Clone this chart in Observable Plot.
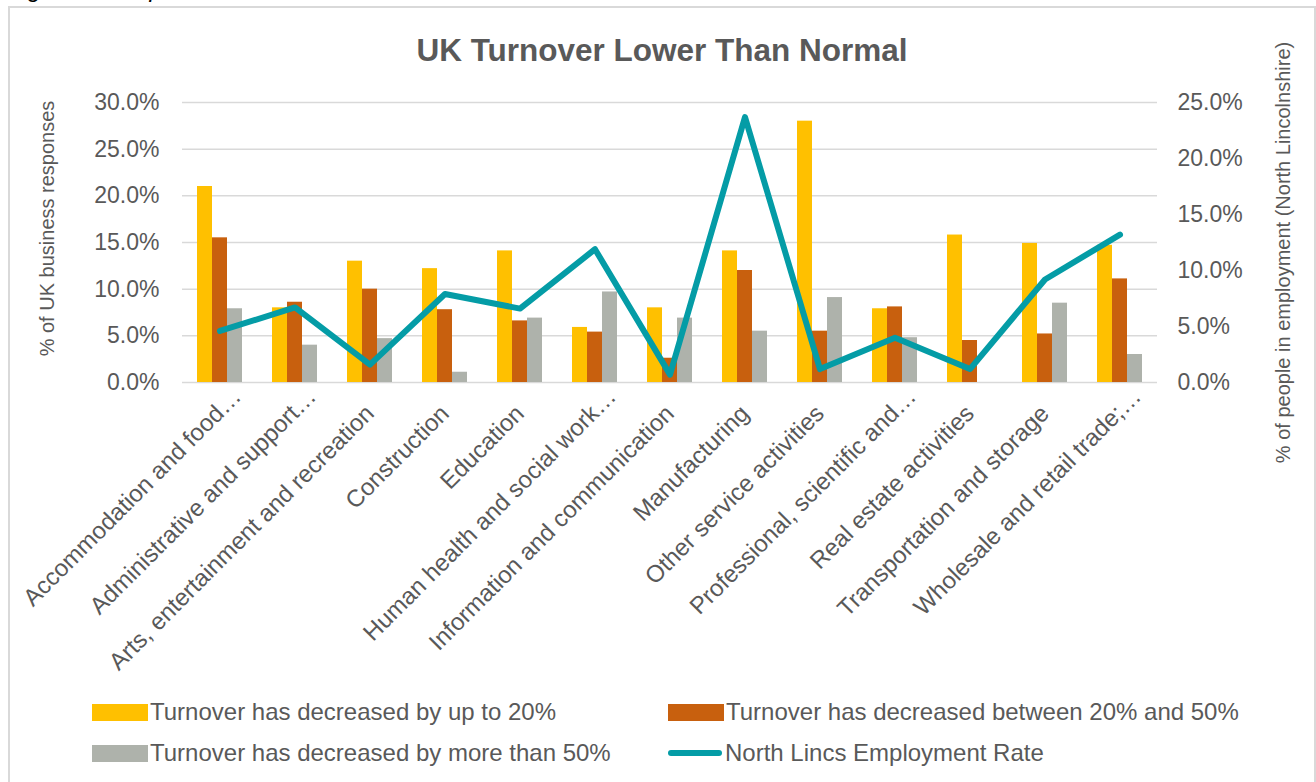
<!DOCTYPE html>
<html>
<head>
<meta charset="utf-8">
<script src="https://cdn.jsdelivr.net/npm/d3@7"></script>
<script src="https://cdn.jsdelivr.net/npm/@observablehq/plot@0.6"></script>
<style>
  body { margin: 0; background: #fff; font-family: "Liberation Sans", Arial, sans-serif; }
  #page { position: relative; width: 1316px; height: 782px; overflow: hidden; background: #fff; }
  #caption { position: absolute; left: 8px; top: -23px; font-size: 24px; line-height: 24px; font-style: italic; color: #000; white-space: nowrap; }
  #frame { position: absolute; left: 8px; top: 6px; width: 1304px; height: 800px; border: 2px solid #d9d9d9; }
  #title { position: absolute; left: 0; top: 35px; width: 1324px; text-align: center; font-size: 31.5px; line-height: 31px; font-weight: bold; color: #595959; }
  #chart { position: absolute; left: 0; top: 0; }
  .legend-item { position: absolute; display: flex; align-items: center; font-size: 24px; line-height: 24px; color: #595959; white-space: nowrap; }
  .swatch { width: 56px; height: 17px; margin-right: 2px; }
  .lineswatch { width: 54px; height: 6px; border-radius: 3px; margin-right: 3px; }
</style>
</head>
<body>
<div id="page">
  <div id="caption">Figure 3 – Impact on Turnover Lower Than Normal</div>
  <div id="frame"></div>
  <div id="title">UK Turnover Lower Than Normal</div>
  <div id="chart"></div>
  <div id="legend"></div>
</div>
<script>
// Industry sectors (labels as they appear on the category axis)
const categories = [
  "Accommodation and food…",
  "Administrative and support…",
  "Arts, entertainment and recreation",
  "Construction",
  "Education",
  "Human health and social work…",
  "Information and communication",
  "Manufacturing",
  "Other service activities",
  "Professional, scientific and…",
  "Real estate activities",
  "Transportation and storage",
  "Wholesale and retail trade;…"
];

// % of UK business responses (left axis)
const decreasedUpTo20 = [21.0, 8.0, 13.0, 12.2, 14.1, 5.9, 8.0, 14.1, 28.0, 7.9, 15.8, 14.9, 14.7];
const decreased20to50 = [15.5, 8.6, 10.0, 7.8, 6.6, 5.4, 2.6, 12.0, 5.5, 8.1, 4.5, 5.2, 11.1];
const decreasedOver50 = [7.9, 4.0, 4.7, 1.1, 6.9, 9.7, 6.9, 5.5, 9.1, 4.8, 0.0, 8.5, 3.0];

// % of people in employment, North Lincolnshire (right axis)
const employmentRate = [4.6, 6.7, 1.6, 7.9, 6.6, 11.9, 0.7, 23.7, 1.2, 4.0, 1.2, 9.2, 13.2];

const leftTicks = [0, 5, 10, 15, 20, 25, 30];
const rightTicks = [0, 5, 10, 15, 20, 25];

const seriesNames = [
  "Turnover has decreased by up to 20%",
  "Turnover has decreased between 20% and 50%",
  "Turnover has decreased by more than 50%",
  "North Lincs Employment Rate"
];
const seriesColors = ["#ffc000", "#c8600e", "#aeb2ab", "#049ca6"];

const leftTitle = "% of UK business responses";
const rightTitle = "% of people in employment (North Lincolnshire)";

// The right axis (0–25%) shares the left axis' pixel range (0–30%)
const rightToLeft = 30 / 25;

const bars = (values, i) => categories.map((c, j) => ({category: c, value: values[j], series: seriesNames[i]}));
const barSets = [decreasedUpTo20, decreased20to50, decreasedOver50].map(bars);
const lineData = categories.map((c, j) => ({category: c, value: employmentRate[j]}));

const isCut = d => d.endsWith("…");
const pct = v => v.toFixed(1) + "%";
const axisColor = "#595959";
const barOffsets = [-15, 0, 15];
const labelSize = 24;
const ellipsisShift = labelSize * Math.SQRT1_2;

const chart = Plot.plot({
  width: 1316,
  height: 690,
  marginTop: 102,
  marginBottom: 308,
  marginLeft: 182,
  marginRight: 159,
  style: {background: "transparent", fontFamily: "'Liberation Sans', Arial, sans-serif", color: axisColor},
  x: {domain: categories, padding: 0, axis: null},
  y: {domain: [0, 30], axis: null},
  marks: [
    Plot.gridY(leftTicks, {stroke: "#d9d9d9", strokeOpacity: 1, strokeWidth: 1.5}),
    Plot.axisY(leftTicks, {anchor: "left", tickSize: 0, tickPadding: 23, tickFormat: pct, fontSize: 23, label: null, fill: axisColor}),
    Plot.axisY(rightTicks.map(v => v * rightToLeft), {anchor: "right", tickSize: 0, tickPadding: 20, tickFormat: d => pct(d / rightToLeft), fontSize: 23, label: null, fill: axisColor}),
    ...barSets.map((set, i) => Plot.barY(set, {
      x: "category", y: "value", fill: seriesColors[i],
      insetLeft: 30, insetRight: 30, dx: barOffsets[i]
    })),
    Plot.lineY(lineData, {
      x: "category", y: d => d.value * rightToLeft,
      stroke: seriesColors[3], strokeWidth: 6, strokeLinecap: "round", strokeLinejoin: "round"
    }),
    // category labels, rotated; truncated ones run on past the anchor by the ellipsis
    Plot.text(categories.filter(d => !isCut(d)), {
      x: d => d, frameAnchor: "bottom", dy: 27, rotate: -45,
      textAnchor: "end", lineAnchor: "middle", fontSize: labelSize, fill: axisColor
    }),
    Plot.text(categories.filter(isCut), {
      x: d => d, frameAnchor: "bottom", dx: ellipsisShift, dy: 27 - ellipsisShift, rotate: -45,
      textAnchor: "end", lineAnchor: "middle", fontSize: labelSize, fill: axisColor
    }),
    // axis titles
    Plot.text([leftTitle], {frameAnchor: "left", dx: -135, dy: -14, rotate: -90, text: d => d, fontSize: 20, fill: axisColor, textAnchor: "middle", lineAnchor: "middle"}),
    Plot.text([rightTitle], {frameAnchor: "right", dx: 126, dy: 10, rotate: -90, text: d => d, fontSize: 20, fill: axisColor, textAnchor: "middle", lineAnchor: "middle"})
  ]
});
document.getElementById("chart").append(chart);

// Legend
const legendPos = [
  {left: 92, top: 700},
  {left: 668, top: 700},
  {left: 92, top: 741},
  {left: 668, top: 741}
];
const legend = document.getElementById("legend");
seriesNames.forEach((name, i) => {
  const item = document.createElement("div");
  item.className = "legend-item";
  item.style.left = legendPos[i].left + "px";
  item.style.top = legendPos[i].top + "px";
  const sw = document.createElement("span");
  sw.className = i === 3 ? "lineswatch" : "swatch";
  sw.style.background = seriesColors[i];
  const label = document.createElement("span");
  label.textContent = name;
  item.append(sw, label);
  legend.append(item);
});
</script>
</body>
</html>
